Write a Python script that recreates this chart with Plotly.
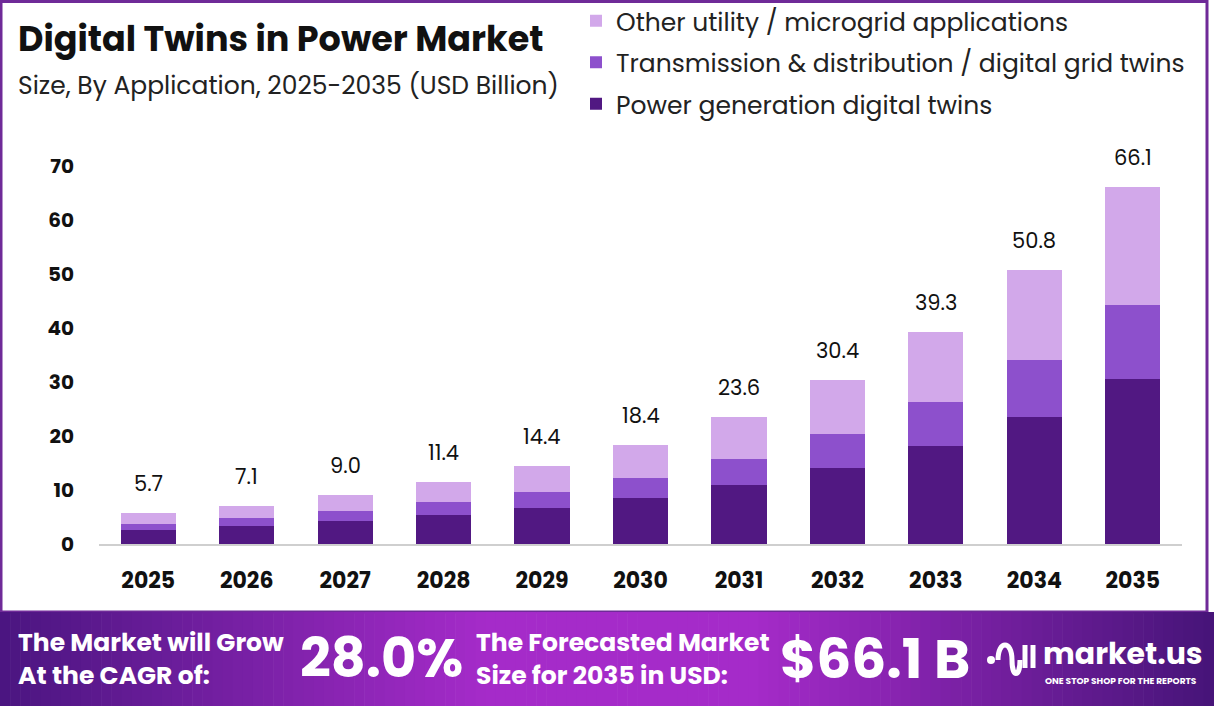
import plotly.graph_objects as go

# ---------------- data ----------------
years = ["2025", "2026", "2027", "2028", "2029", "2030", "2031", "2032", "2033", "2034", "2035"]
power_generation = [2.6, 3.3, 4.2, 5.3, 6.7, 8.5, 10.9, 14.1, 18.2, 23.6, 30.6]
transmission_distribution = [1.1, 1.5, 1.9, 2.4, 3.0, 3.8, 4.9, 6.3, 8.1, 10.5, 13.7]
other_utility = [2.0, 2.3, 2.9, 3.7, 4.7, 6.1, 7.8, 10.0, 13.0, 16.7, 21.8]
totals = [5.7, 7.1, 9.0, 11.4, 14.4, 18.4, 23.6, 30.4, 39.3, 50.8, 66.1]
y_ticks = [0, 10, 20, 30, 40, 50, 60, 70]
series_names = ["Power generation digital twins",
                "Transmission & distribution / digital grid twins",
                "Other utility / microgrid applications"]
cagr_text = "28.0%"
forecast_text = "$66.1 B"

# ---------------- layout geometry ----------------
W, H = 1214, 706
PL, PR, PT, PB = 99, 1182, 150, 544     # plot area in pixels
FONT = "Poppins, Inter, sans-serif"
COL_DARK = "#511882"
COL_MID = "#8d50cc"
COL_LIGHT = "#d2a8ea"


def px(x):
    return (x - PL) / (PR - PL)


def py(y):
    return (PB - y) / (PB - PT)


fig = go.Figure()
for rank, (name, vals, col) in enumerate([(series_names[0], power_generation, COL_DARK),
                                          (series_names[1], transmission_distribution, COL_MID),
                                          (series_names[2], other_utility, COL_LIGHT)]):
    fig.add_trace(go.Bar(x=years, y=vals, name=name, marker_color=col,
                         marker_line_width=0, legendgroup=name, legendrank=1000 - rank,
                         hoverinfo="x+y+name"))

shapes = []
# outer border
shapes.append(dict(type="rect", xref="paper", yref="paper",
                   x0=px(1), x1=px(1207), y0=py(612), y1=py(1.5),
                   line=dict(color="#6f2a98", width=3), fillcolor="rgba(0,0,0,0)", layer="below"))


def lerp(c1, c2, t):
    return tuple(int(round(a + (b - a) * t)) for a, b in zip(c1, c2))


# gradient banner built from thin stripes
left_c = (0x4a, 0x15, 0x80)
mid_c = (0xa5, 0x2b, 0xc9)
right_c = (0x46, 0x14, 0x78)
n = 120
for i in range(n):
    x0 = W * i / n
    x1 = W * (i + 1) / n + 0.6
    t = (i + 0.5) / n
    if t < 0.4:
        c = lerp(left_c, mid_c, t / 0.4)
    elif t < 0.62:
        c = mid_c
    else:
        c = lerp(mid_c, right_c, (t - 0.62) / 0.38)
    shapes.append(dict(type="rect", xref="paper", yref="paper",
                       x0=px(x0), x1=px(x1), y0=py(706), y1=py(612),
                       line=dict(width=0), fillcolor="rgb(%d,%d,%d)" % c, layer="above"))

annotations = []
# title / subtitle
annotations.append(dict(text="<b>Digital Twins in Power Market</b>", xref="paper", yref="paper",
                        x=px(16), y=py(38), xanchor="left", yanchor="middle", showarrow=False,
                        font=dict(family=FONT, size=35, color="#111111")))
annotations.append(dict(text="Size, By Application, 2025-2035 (USD Billion)", xref="paper", yref="paper",
                        x=px(16), y=py(86), xanchor="left", yanchor="middle", showarrow=False,
                        font=dict(family=FONT, size=25, color="#222222")))
# totals above bars
for i, tot in enumerate(totals):
    annotations.append(dict(text=f"{tot:.1f}", x=i, y=tot, xref="x", yref="y",
                            xanchor="center", yanchor="bottom", yshift=13, showarrow=False,
                            font=dict(family=FONT, size=21, color="#111111")))
# banner texts
white = "#ffffff"
annotations.append(dict(text="<b>The Market will Grow<br>At the CAGR of:</b>", xref="paper", yref="paper",
                        x=px(16), y=py(659), xanchor="left", yanchor="middle", align="left",
                        showarrow=False, font=dict(family=FONT, size=25, color=white)))
annotations.append(dict(text=f"<b>{cagr_text}</b>", xref="paper", yref="paper",
                        x=px(381), y=py(658), xanchor="center", yanchor="middle",
                        showarrow=False, font=dict(family=FONT, size=54, color=white)))
annotations.append(dict(text="<b>The Forecasted Market<br>Size for 2035 in USD:</b>", xref="paper", yref="paper",
                        x=px(474), y=py(659), xanchor="left", yanchor="middle", align="left",
                        showarrow=False, font=dict(family=FONT, size=25, color=white)))
annotations.append(dict(text=f"<b>{forecast_text}</b>", xref="paper", yref="paper",
                        x=px(875), y=py(658), xanchor="center", yanchor="middle",
                        showarrow=False, font=dict(family=FONT, size=55, color=white)))
annotations.append(dict(text="<b>market.us</b>", xref="paper", yref="paper",
                        x=px(1041), y=py(653), xanchor="left", yanchor="middle",
                        showarrow=False, font=dict(family=FONT, size=30, color=white)))
annotations.append(dict(text="<b>ONE STOP SHOP FOR THE REPORTS</b>", xref="paper", yref="paper",
                        x=px(1043), y=py(681), xanchor="left", yanchor="middle",
                        showarrow=False, font=dict(family=FONT, size=9, color=white)))

# simple logo glyph
shapes.append(dict(type="circle", xref="paper", yref="paper",
                   x0=px(987), x1=px(995), y0=py(664), y1=py(656),
                   line=dict(width=0), fillcolor=white, layer="above"))
shapes.append(dict(type="path", xref="paper", yref="paper",
                   path=f"M {px(998)},{py(660)} C {px(998)},{py(640)} {px(1012)},{py(640)} {px(1012)},{py(660)} "
                        f"C {px(1012)},{py(678)} {px(1020)},{py(678)} {px(1020)},{py(660)}",
                   line=dict(color=white, width=5), layer="above"))
shapes.append(dict(type="line", xref="paper", yref="paper",
                   x0=px(1025), x1=px(1025), y0=py(668), y1=py(645),
                   line=dict(color=white, width=5), layer="above"))
shapes.append(dict(type="line", xref="paper", yref="paper",
                   x0=px(1033), x1=px(1033), y0=py(668), y1=py(645),
                   line=dict(color=white, width=5), layer="above"))

fig.update_layout(
    width=W, height=H,
    margin=dict(l=PL, r=W - PR, t=PT, b=H - PB, autoexpand=False),
    paper_bgcolor="white", plot_bgcolor="white",
    barmode="stack", bargap=0.44,
    font=dict(family=FONT, color="#111111"),
    showlegend=True,
    legend=dict(x=px(576), y=py(-2), xanchor="left", yanchor="top",
                traceorder="grouped", tracegroupgap=6,
                font=dict(family=FONT, size=25, color="#222222"),
                bgcolor="rgba(0,0,0,0)", itemwidth=30),
    xaxis=dict(type="category", showgrid=False, showline=True, linecolor="#cfcfcf", linewidth=2,
               ticks="", tickfont=dict(family=FONT, size=22, color="#111111", weight="bold"),
               ticklabelstandoff=16, range=[-0.5, 10.5], automargin=False),
    yaxis=dict(range=[0, (PB - PT) / 5.4], tickvals=y_ticks, showgrid=False, zeroline=False,
               showline=False, tickfont=dict(family=FONT, size=20, color="#111111", weight="bold"),
               ticklabelstandoff=24, automargin=False),
    shapes=shapes,
    annotations=annotations,
)

fig.write_html("out.html")
